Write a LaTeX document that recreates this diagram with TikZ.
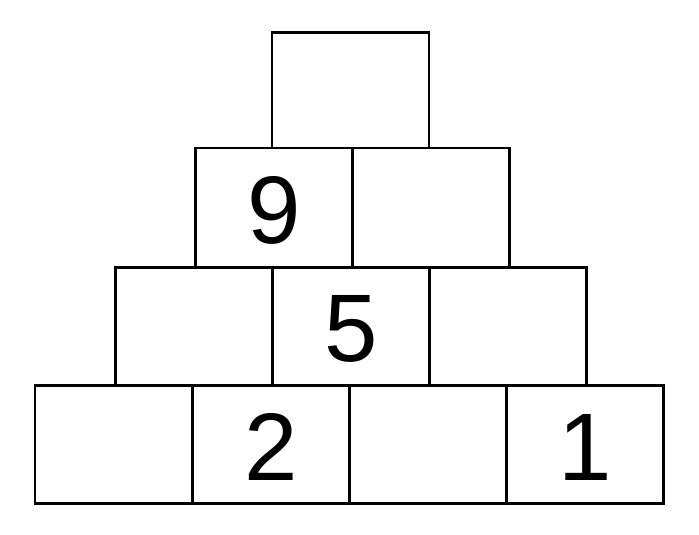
\documentclass[tikz,border=0pt]{standalone}
\usepackage{fontspec}
\setmainfont{Liberation Sans}
\begin{document}
\begin{tikzpicture}[x=1pt,y=1pt,
  cell/.style={draw=black, line width=2.7pt, rectangle, minimum width=157pt, inner sep=0pt, fill=white},
  num/.style={font=\fontsize{96}{110}\selectfont, inner sep=0pt, text=black}]
\useasboundingbox (0,0) rectangle (699,535);
% bottom row
\node[cell, minimum height=118pt] (b1) at (113.6,90.7) {};
\node[cell, minimum height=118pt] (b2) at (270.7,90.7) {};
\node[cell, minimum height=118pt] (b3) at (427.7,90.7) {};
\node[cell, minimum height=118pt] (b4) at (584.8,90.7) {};
% third row
\node[cell, minimum height=118pt] (c1) at (194.2,208.7) {};
\node[cell, minimum height=118pt] (c2) at (351.2,208.7) {};
\node[cell, minimum height=118pt] (c3) at (508.2,208.7) {};
% second row
\node[cell, minimum height=119.3pt] (d1) at (274.2,327.3) {};
\node[cell, minimum height=119.3pt] (d2) at (431.0,327.3) {};
% top
\node[cell, minimum height=115.6pt] (t) at (350.5,444.9) {};
% numbers
\node[num] (n9) at ([yshift=-3pt]d1.center) {9};
\node[num] (n5) at ([yshift=-3pt]c2.center) {5};
\node[num] (n2) at ([yshift=-3pt]b2.center) {2};
\node[num] (n1) at ([yshift=-3pt]b4.center) {1};
\end{tikzpicture}
\end{document}
